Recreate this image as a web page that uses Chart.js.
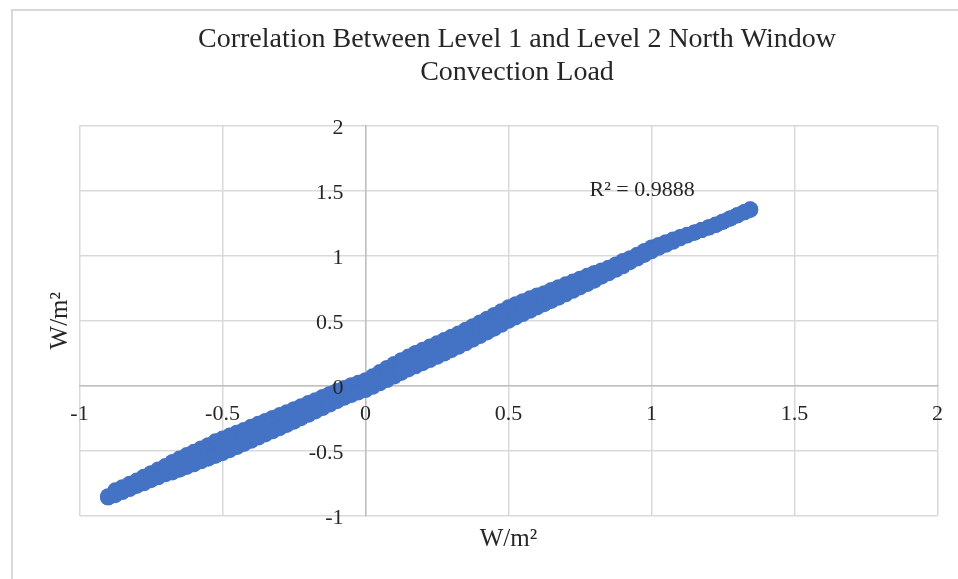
<!DOCTYPE html>
<html>
<head>
<meta charset="utf-8">
<script src="https://cdn.jsdelivr.net/npm/chart.js@4.4.1/dist/chart.umd.min.js"></script>
<style>
  html, body { margin: 0; padding: 0; background: #ffffff; }
  #chart { display: block; }
</style>
</head>
<body>
<canvas id="chart" width="958" height="579"></canvas>
<script>
// Level 1 north window convection load (W/m²), shared x values of the three point rows
const level1Load = [-0.900, -0.875, -0.850, -0.825, -0.800, -0.775, -0.750, -0.725, -0.700, -0.675,
  -0.650, -0.625, -0.600, -0.575, -0.550, -0.525, -0.500, -0.475, -0.450, -0.425,
  -0.400, -0.375, -0.350, -0.325, -0.300, -0.275, -0.250, -0.225, -0.200, -0.175,
  -0.150, -0.125, -0.100, -0.075, -0.050, -0.025, 0.000, 0.025, 0.050, 0.075,
  0.100, 0.125, 0.150, 0.175, 0.200, 0.225, 0.250, 0.275, 0.300, 0.325,
  0.350, 0.375, 0.400, 0.425, 0.450, 0.475, 0.500, 0.525, 0.550, 0.575,
  0.600, 0.625, 0.650, 0.675, 0.700, 0.725, 0.750, 0.775, 0.800, 0.825,
  0.850, 0.875, 0.900, 0.925, 0.950, 0.975, 1.000, 1.025, 1.050, 1.075,
  1.100, 1.125, 1.150, 1.175, 1.200, 1.225, 1.250, 1.275, 1.300, 1.325,
  1.345];

// Level 2 load (W/m²): upper, middle and lower readings at each level 1 value
const level2Upper = [-0.850, -0.805, -0.781, -0.755, -0.730, -0.700, -0.673, -0.644, -0.618, -0.586,
  -0.560, -0.534, -0.509, -0.483, -0.458, -0.428, -0.407, -0.384, -0.362, -0.340,
  -0.316, -0.293, -0.271, -0.248, -0.226, -0.204, -0.181, -0.158, -0.134, -0.111,
  -0.087, -0.064, -0.041, -0.018, 0.004, 0.022, 0.042, 0.072, 0.105, 0.136,
  0.167, 0.196, 0.224, 0.252, 0.276, 0.301, 0.326, 0.351, 0.376, 0.402,
  0.430, 0.458, 0.486, 0.515, 0.544, 0.573, 0.603, 0.627, 0.650, 0.672,
  0.694, 0.711, 0.736, 0.758, 0.780, 0.801, 0.823, 0.845, 0.867, 0.886,
  0.908, 0.933, 0.959, 0.981, 1.008, 1.036, 1.064, 1.083, 1.104, 1.124,
  1.143, 1.161, 1.178, 1.197, 1.217, 1.237, 1.262, 1.287, 1.312, 1.337,
  1.355];
const level2Middle = [-0.856, -0.824, -0.800, -0.775, -0.751, -0.726, -0.700, -0.670, -0.650, -0.627,
  -0.603, -0.580, -0.557, -0.533, -0.510, -0.486, -0.463, -0.440, -0.417, -0.394,
  -0.370, -0.346, -0.323, -0.300, -0.277, -0.253, -0.229, -0.204, -0.179, -0.155,
  -0.130, -0.105, -0.080, -0.056, -0.034, -0.015, 0.004, 0.032, 0.062, 0.090,
  0.118, 0.150, 0.175, 0.200, 0.225, 0.250, 0.275, 0.300, 0.325, 0.351,
  0.378, 0.406, 0.434, 0.460, 0.491, 0.521, 0.551, 0.576, 0.600, 0.624,
  0.648, 0.671, 0.694, 0.720, 0.742, 0.766, 0.790, 0.814, 0.838, 0.863,
  0.887, 0.913, 0.939, 0.966, 0.993, 1.021, 1.049, 1.072, 1.094, 1.115,
  1.139, 1.158, 1.178, 1.197, 1.217, 1.238, 1.262, 1.286, 1.311, 1.335,
  1.357];
const level2Lower = [-0.860, -0.842, -0.818, -0.795, -0.771, -0.751, -0.727, -0.704, -0.682, -0.667,
  -0.646, -0.625, -0.604, -0.582, -0.561, -0.540, -0.519, -0.496, -0.472, -0.448,
  -0.424, -0.399, -0.375, -0.351, -0.327, -0.302, -0.277, -0.250, -0.224, -0.198,
  -0.172, -0.145, -0.119, -0.093, -0.072, -0.052, -0.034, -0.009, 0.018, 0.044,
  0.071, 0.098, 0.125, 0.149, 0.173, 0.197, 0.222, 0.247, 0.273, 0.299,
  0.326, 0.354, 0.382, 0.410, 0.439, 0.469, 0.499, 0.525, 0.551, 0.576,
  0.602, 0.627, 0.652, 0.677, 0.703, 0.730, 0.756, 0.782, 0.808, 0.839,
  0.865, 0.892, 0.919, 0.950, 0.978, 1.006, 1.034, 1.061, 1.084, 1.107,
  1.134, 1.156, 1.177, 1.198, 1.218, 1.240, 1.263, 1.286, 1.310, 1.334,
  1.352];

const axisTicks = [-1, -0.5, 0, 0.5, 1, 1.5, 2];
const titleLines = ['Correlation Between Level 1 and Level 2 North Window', 'Convection Load'];
const unitLabel = 'W/m²';
const rSquared = 0.9888;

function pairs(xs, ys) {
  return xs.map((x, i) => ({ x: x, y: ys[i] }));
}
const points = pairs(level1Load, level2Upper)
  .concat(pairs(level1Load, level2Middle))
  .concat(pairs(level1Load, level2Lower));

const SERIF = '"Liberation Serif", "Times New Roman", serif';
const TEXT = '#262626';

// Chart frame, title, axis titles and the R² note
const decorations = {
  id: 'decorations',
  beforeDraw(chart) {
    const ctx = chart.ctx;
    ctx.save();
    ctx.fillStyle = '#ffffff';
    ctx.fillRect(0, 0, chart.width, chart.height);
    ctx.strokeStyle = '#d9d9d9';
    ctx.lineWidth = 2;
    ctx.beginPath();
    ctx.moveTo(12, chart.height);
    ctx.lineTo(12, 10);
    ctx.lineTo(chart.width, 10);
    ctx.stroke();
    ctx.restore();
  },
  afterDatasetsDraw(chart) {
    const ctx = chart.ctx;
    const { x, y } = chart.scales;
    ctx.save();
    ctx.fillStyle = TEXT;
    ctx.font = '22px ' + SERIF;
    ctx.textAlign = 'center';
    ctx.textBaseline = 'alphabetic';
    ctx.fillText('R² = ' + rSquared.toFixed(4), x.getPixelForValue(0.967), y.getPixelForValue(1.457));
    ctx.restore();
  },
  afterDraw(chart) {
    const ctx = chart.ctx;
    const area = chart.chartArea;
    ctx.save();
    ctx.fillStyle = TEXT;
    ctx.textAlign = 'center';
    ctx.textBaseline = 'alphabetic';
    ctx.font = '28px ' + SERIF;
    ctx.fillText(titleLines[0], 517, 47);
    ctx.fillText(titleLines[1], 517, 80);
    ctx.font = '25px ' + SERIF;
    const cx = (area.left + area.right) / 2;
    ctx.fillText(unitLabel, cx, 546);
    ctx.translate(67, (area.top + area.bottom) / 2);
    ctx.rotate(-Math.PI / 2);
    ctx.fillText(unitLabel, 0, 0);
    ctx.restore();
  }
};

const gridStyle = { color: '#d9d9d9', lineWidth: 1.5, drawTicks: false };
const borderStyle = { color: '#bfbfbf', width: 1.5 };
const tickFont = { family: SERIF, size: 22 };
const setTicks = (s) => { s.ticks = axisTicks.map(v => ({ value: v })); };

new Chart(document.getElementById('chart'), {
  type: 'scatter',
  data: {
    datasets: [{
      data: points,
      backgroundColor: '#4472c4',
      borderColor: '#4472c4',
      borderWidth: 0,
      pointRadius: 8,
      pointHoverRadius: 8
    }]
  },
  options: {
    responsive: false,
    animation: false,
    events: [],
    layout: { padding: { left: 79.5, top: 125.7, right: 20.5, bottom: 63.3 } },
    plugins: { legend: { display: false }, tooltip: { enabled: false }, title: { display: false } },
    scales: {
      x: {
        type: 'linear',
        min: -1, max: 2,
        position: { y: 0 },
        afterBuildTicks: setTicks,
        grid: gridStyle,
        border: borderStyle,
        ticks: { z: 1, padding: 15, color: TEXT, font: tickFont, maxRotation: 0,
          callback: (v) => String(v) }
      },
      y: {
        type: 'linear',
        min: -1, max: 2,
        position: { x: 0 },
        afterBuildTicks: setTicks,
        grid: gridStyle,
        border: borderStyle,
        ticks: { z: 1, color: TEXT, font: tickFont, labelOffset: 3,
          // keep the labels clear of the vertical axis line
          callback: (v) => String(v) + '\u2003' }
      }
    }
  },
  plugins: [decorations]
});
</script>
</body>
</html>
